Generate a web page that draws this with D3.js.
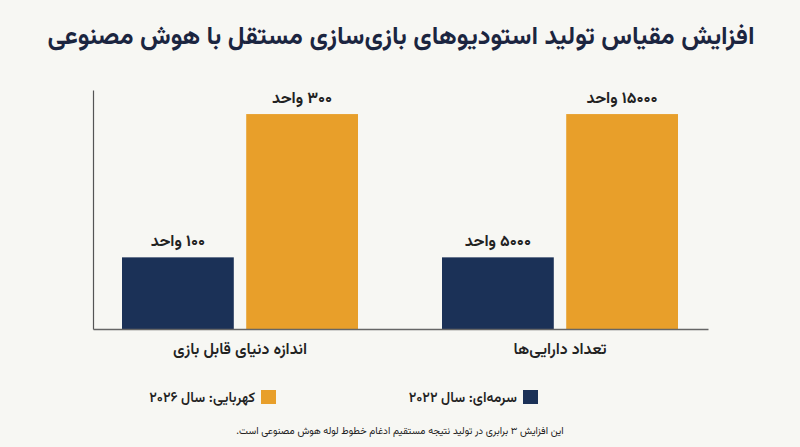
<!doctype html>
<html lang="fa">
<head>
<meta charset="utf-8" />
<title>افزایش مقیاس تولید</title>
<script src="https://cdn.jsdelivr.net/npm/d3@7"></script>
<style>
	html, body { margin: 0; padding: 0; background: #f7f7f3; }
	svg { display: block; font-family: Vazirmatn, "DejaVu Sans", sans-serif; }
</style>
</head>
<body>
<div id="chart"></div>
<script>
	const TITLE = "افزایش مقیاس تولید استودیوهای بازی‌سازی مستقل با هوش مصنوعی";
	const FOOTNOTE = "این افزایش ۳ برابری در تولید نتیجه مستقیم ادغام خطوط لوله هوش مصنوعی است.";
	const categories = ["اندازه دنیای قابل بازی", "تعداد دارایی‌ها"];
	const seriesKeys = ["y2022", "y2026"];
	const seriesNames = ["سرمه‌ای: سال ۲۰۲۲", "کهربایی: سال ۲۰۲۶"];
	const values2022 = [100, 5000];
	const values2026 = [300, 15000];
	const UNIT = "واحد";

	const W = 800, H = 447;
	const MARGIN = { LEFT: 93, RIGHT: 92, TOP: 90, BOTTOM: 118 };
	const COLORS = { y2022: "#1b3157", y2026: "#e89f2a" };
	const TEXT = "#1b2540";

	const faDigits = (s) => String(s).replace(/\d/g, (d) => "۰۱۲۳۴۵۶۷۸۹"[d]);

	const data = categories.map((c, i) => ({ category: c, y2022: values2022[i], y2026: values2026[i] }));

	const svg = d3.select("#chart").append("svg").attr("width", W).attr("height", H);

	svg.append("text")
		.attr("x", W / 2 + 1).attr("y", 44)
		.attr("text-anchor", "middle").attr("direction", "rtl")
		.attr("font-size", 25.5).attr("font-weight", 700).attr("fill", TEXT)
		.text(TITLE);

	const baseY = H - MARGIN.BOTTOM;
	const x0 = d3.scaleBand().domain(categories).range([80, 720]).padding(0);
	const x1 = d3.scaleBand().domain(seriesKeys).range([-118, 118]).paddingInner(0.1);
	// each category has its own units, so its own scale
	const yScales = data.map((d) =>
		d3.scaleLinear().domain([0, d3.max(seriesKeys, (k) => d[k]) * 1.112]).range([baseY, MARGIN.TOP])
	);

	const groups = svg.append("g").selectAll("g").data(data).join("g")
		.attr("transform", (d) => `translate(${x0(d.category) + x0.bandwidth() / 2},0)`);

	groups.each(function (d, i) {
		const y = yScales[i];
		const g = d3.select(this);
		const bars = seriesKeys.map((k) => ({ key: k, value: d[k] }));
		g.selectAll("rect").data(bars).join("rect")
			.attr("x", (b) => x1(b.key)).attr("width", x1.bandwidth())
			.attr("y", (b) => y(b.value)).attr("height", (b) => baseY - y(b.value))
			.attr("fill", (b) => COLORS[b.key]);
		g.selectAll("text.val").data(bars).join("text")
			.attr("class", "val")
			.attr("x", (b) => x1(b.key) + x1.bandwidth() / 2)
			.attr("y", (b) => y(b.value) - 11)
			.attr("text-anchor", "middle").attr("direction", "rtl")
			.attr("font-size", 16).attr("font-weight", 700).attr("fill", "#222")
			.text((b) => `${faDigits(b.value)} ${UNIT}`);
		g.append("text")
			.attr("x", 0).attr("y", baseY + 25)
			.attr("text-anchor", "middle").attr("direction", "rtl")
			.attr("font-size", 16).attr("font-weight", 600).attr("fill", "#222")
			.text(d.category);
	});

	// axes: plain lines, no ticks
	svg.append("g").attr("transform", `translate(${MARGIN.LEFT},0)`)
		.call(d3.axisLeft(yScales[0]).tickValues([]).tickSizeOuter(0))
		.call((g) => g.select(".domain").attr("stroke", "#555").attr("stroke-width", 1.2));
	svg.append("g").attr("transform", `translate(0,${baseY})`)
		.call(d3.axisBottom(d3.scaleLinear().range([MARGIN.LEFT, W - MARGIN.RIGHT])).tickValues([]).tickSizeOuter(0))
		.call((g) => g.select(".domain").attr("stroke", "#666").attr("stroke-width", 1.5));

	// legend (right to left)
	const legendX = [538, 276];
	const legend = svg.append("g").selectAll("g").data(seriesKeys).join("g")
		.attr("transform", (k, i) => `translate(${legendX[i]},390)`);
	legend.append("rect").attr("x", -15).attr("width", 15).attr("height", 14).attr("fill", (k) => COLORS[k]);
	legend.append("text")
		.attr("x", -21).attr("y", 12)
		.attr("text-anchor", "start").attr("direction", "rtl")
		.attr("font-size", 14).attr("font-weight", 600).attr("fill", "#222")
		.text((k, i) => seriesNames[i]);

	svg.append("text")
		.attr("x", W / 2).attr("y", 434)
		.attr("text-anchor", "middle").attr("direction", "rtl")
		.attr("font-size", 10).attr("fill", "#222")
		.text(FOOTNOTE);
</script>
</body>
</html>
